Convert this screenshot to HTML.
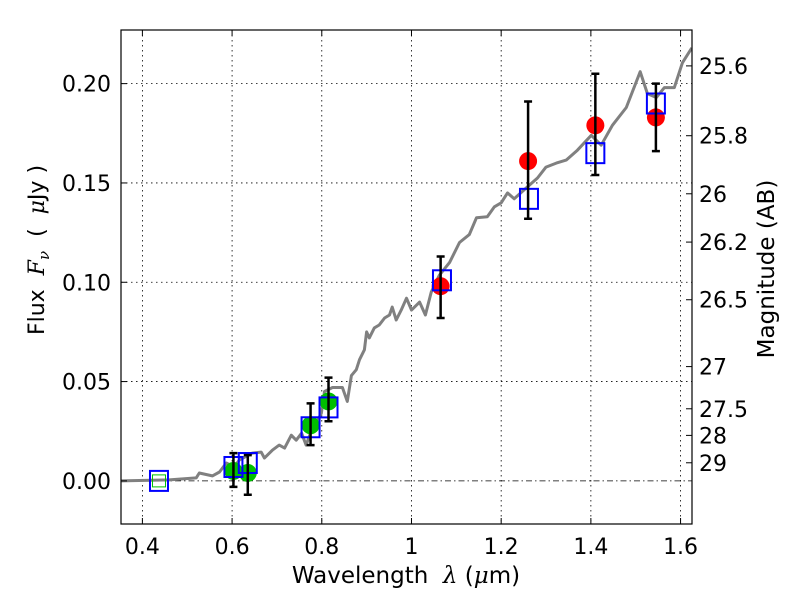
<!DOCTYPE html>
<html><head><meta charset="utf-8"><style>
html,body{margin:0;padding:0;background:#fff;}
svg{display:block;font-family:"DejaVu Sans","Liberation Sans",sans-serif;}
</style></head><body>
<svg id="chart" width="800" height="600" viewBox="0 0 800 600">
<rect x="0" y="0" width="800" height="600" fill="#fff"/>
<g id="grid"></g>
<g id="spec"></g>
<g id="marks"></g>
<rect x="121" y="30" width="571" height="494" fill="none" stroke="#000" stroke-width="1.2"/>
<g id="axes"></g>
<text x="406" y="583" font-size="23" text-anchor="middle" xml:space="preserve">Wavelength  <tspan font-style="italic" font-family="DejaVu Serif, serif">λ</tspan> (<tspan font-style="italic" font-family="DejaVu Serif, serif">μ</tspan>m)</text>
<text transform="translate(44,250) rotate(-90)" font-size="22" text-anchor="middle" xml:space="preserve">Flux  <tspan font-style="italic" font-family="DejaVu Serif, serif">F</tspan><tspan font-style="italic" font-family="DejaVu Serif, serif" font-size="15" dy="5">ν</tspan><tspan dy="-5">  (  </tspan><tspan font-style="italic" font-family="DejaVu Serif, serif">μ</tspan>Jy )</text>
<text transform="translate(774,269) rotate(-90)" font-size="23" text-anchor="middle">Magnitude (AB)</text>
</svg>
<script>
const xTicks=[0.4,0.6,0.8,1.0,1.2,1.4,1.6];
const xTickLabels=["0.4","0.6","0.8","1","1.2","1.4","1.6"];
const yTicks=[0,0.05,0.10,0.15,0.20];
const yTickLabels=["0.00","0.05","0.10","0.15","0.20"];
const magTicks=[25.6,25.8,26,26.2,26.5,27,27.5,28,29];
const magTickLabels=["25.6","25.8","26","26.2","26.5","27","27.5","28","29"];
const specWave=[0.349,0.46,0.52,0.527,0.556,0.572,0.587,0.605,0.616,0.645,0.665,0.672,0.69,0.705,0.717,0.732,0.743,0.755,0.765,0.777,0.788,0.799,0.806,0.824,0.846,0.857,0.866,0.877,0.884,0.895,0.9,0.906,0.917,0.928,0.94,0.951,0.957,0.966,0.977,0.989,1.0,1.018,1.031,1.044,1.062,1.085,1.107,1.129,1.145,1.169,1.185,1.2,1.214,1.229,1.256,1.281,1.3,1.323,1.345,1.37,1.401,1.423,1.448,1.479,1.51,1.526,1.546,1.564,1.586,1.604,1.625];
const specFlux=[0,0.0005,0.0015,0.004,0.0025,0.0045,0.009,0.007,0.0105,0.014,0.0145,0.0115,0.0155,0.018,0.0165,0.023,0.0205,0.024,0.018,0.0255,0.0295,0.034,0.045,0.047,0.047,0.040,0.053,0.056,0.061,0.066,0.075,0.072,0.077,0.0785,0.082,0.0835,0.0875,0.081,0.086,0.092,0.086,0.090,0.0835,0.095,0.1035,0.110,0.120,0.124,0.1325,0.133,0.138,0.140,0.145,0.142,0.1475,0.1525,0.158,0.160,0.1615,0.1665,0.174,0.169,0.179,0.188,0.206,0.195,0.193,0.198,0.198,0.2105,0.218];
const sqWave=[0.437,0.603,0.635,0.775,0.815,1.068,1.262,1.41,1.545];
const sqFlux=[0,0.007,0.009,0.027,0.037,0.101,0.142,0.165,0.190];
const greenWave=[0.603,0.635,0.775,0.815];
const greenFlux=[0.005,0.004,0.028,0.040];
const greenLo=[-0.003,-0.007,0.018,0.030];
const greenHi=[0.014,0.013,0.039,0.052];
const redWave=[1.065,1.26,1.41,1.545];
const redFlux=[0.098,0.161,0.179,0.183];
const redLo=[0.082,0.132,0.154,0.166];
const redHi=[0.113,0.191,0.205,0.200];

const NS="http://www.w3.org/2000/svg";
const X0=121,X1=692,Y0=30,Y1=524;
const xmin=0.3523,xmax=1.6255,ymin=-0.0217,ymax=0.2270;
function sx(v){return X0+(v-xmin)/(xmax-xmin)*(X1-X0);}
function sy(v){return Y1-(v-ymin)/(ymax-ymin)*(Y1-Y0);}
function magToFlux(m){return Math.pow(10,(23.9-m)/2.5);}
function mk(tag,attrs,parent){const e=document.createElementNS(NS,tag);for(const k in attrs)e.setAttribute(k,attrs[k]);parent.appendChild(e);return e;}
const grid=document.getElementById('grid'),axes=document.getElementById('axes'),spec=document.getElementById('spec'),marks=document.getElementById('marks');

xTicks.forEach((t,i)=>{
  const x=sx(t);
  const g=mk('line',{x1:x,x2:x,y1:Y0,y2:Y1,stroke:'#000','stroke-width':0.8,'stroke-dasharray':'1.5,3.5'},grid);
  
  
  const a=mk('line',{x1:x,x2:x,y1:Y1,y2:Y1-6,stroke:'#000'},axes);
  
  
  const b=mk('line',{x1:x,x2:x,y1:Y0,y2:Y0+6,stroke:'#000'},axes);
  
  
  const l=mk('text',{x:x,y:554,'font-size':22,'text-anchor':'middle'},axes);
  l.textContent=xTickLabels[i];
  
  
});
yTicks.forEach((t,i)=>{
  const y=sy(t);
  const g=mk('line',{x1:X0,x2:X1,y1:y,y2:y,stroke:'#000','stroke-width':0.8,'stroke-dasharray':t===0?'6,3,1.5,3':'1.5,3.5'},grid);
  
  
  const a=mk('line',{x1:X0,x2:X0+6,y1:y,y2:y,stroke:'#000'},axes);
  
  
  const l=mk('text',{x:111,y:y+8,'font-size':22,'text-anchor':'end'},axes);
  l.textContent=yTickLabels[i];
  
  
});
magTicks.forEach((m,i)=>{
  const y=sy(magToFlux(m));
  const a=mk('line',{x1:X1,x2:X1-6,y1:y,y2:y,stroke:'#000'},axes);
  
  
  const l=mk('text',{x:699,y:y+8,'font-size':22,'text-anchor':'start'},axes);
  l.textContent=magTickLabels[i];
  
  
});

let d='';
specWave.forEach((w,i)=>{d+=(i?'L':'M')+sx(w).toFixed(1)+','+sy(specFlux[i]).toFixed(1);});
const cp=mk('clipPath',{id:'clip'},document.getElementById('chart'));
mk('rect',{x:X0,y:Y0,width:X1-X0,height:Y1-Y0},cp);
const sp=mk('path',{d:d,fill:'none',stroke:'#808080','stroke-width':3,'stroke-linejoin':'round','clip-path':'url(#clip)'},spec);



function errbar(w,lo,hi){
  const x=sx(w);
  const e=mk('path',{d:`M${x},${sy(lo)}V${sy(hi)}M${x-4},${sy(lo)}H${x+4}M${x-4},${sy(hi)}H${x+4}`,stroke:'#000','stroke-width':2.5,fill:'none'},marks);
  
  
}
greenWave.forEach((w,i)=>{
  const c=mk('circle',{cx:sx(w),cy:sy(greenFlux[i]),r:9,fill:'#00bf00'},marks);
  
  
});
redWave.forEach((w,i)=>{
  const c=mk('circle',{cx:sx(w),cy:sy(redFlux[i]),r:9,fill:'#ff0000'},marks);
  
  
});
sqWave.forEach((w,i)=>{
  const x=sx(w),y=sy(sqFlux[i]);
  const s=mk('rect',{x:x-9,y:y-10,width:18,height:20,fill:'none',stroke:'#0000ff','stroke-width':2},marks);
  
  
  if(i===0){
    const g=mk('rect',{x:x-6.5,y:y-6,width:13,height:12,fill:'none',stroke:'#00bf00','stroke-width':1},marks);
    
    
  }
});
greenWave.forEach((w,i)=>errbar(w,greenLo[i],greenHi[i]));
redWave.forEach((w,i)=>errbar(w,redLo[i],redHi[i]));
</script>
</body></html>
